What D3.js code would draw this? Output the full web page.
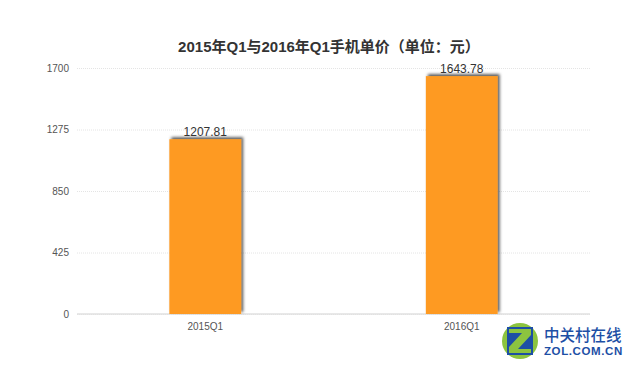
<!DOCTYPE html>
<html>
<head>
<meta charset="utf-8">
<script src="https://cdn.jsdelivr.net/npm/d3@7"></script>
<style>
  body { margin: 0; background: #fff; }
  svg { display: block; font-family: "Liberation Sans", "Noto Sans CJK SC", sans-serif; }
</style>
</head>
<body>
<svg id="chart" width="640" height="372"></svg>
<script>
const categories = ["2015Q1", "2016Q1"];
const prices = [1207.81, 1643.78];
const yTicks = [0, 425, 850, 1275, 1700];
const title = "2015年Q1与2016年Q1手机单价（单位：元）";

const width = 640, height = 372;
const margin = {top: 68, right: 50, bottom: 58, left: 77};

const svg = d3.select("#chart");

const defs = svg.append("defs");
const shadow = defs.append("filter")
    .attr("id", "shadow")
    .attr("x", "-20%").attr("y", "-20%")
    .attr("width", "140%").attr("height", "140%");
shadow.append("feDropShadow")
    .attr("dx", 2).attr("dy", -2)
    .attr("stdDeviation", 1.6)
    .attr("flood-color", "#000")
    .attr("flood-opacity", 0.65);

const x = d3.scaleBand()
    .domain(categories)
    .range([margin.left, width - margin.right]);

const y = d3.scaleLinear()
    .domain([0, 1700])
    .range([height - margin.bottom, margin.top]);

// title
svg.append("text")
    .attr("x", 329)
    .attr("y", 52)
    .attr("text-anchor", "middle")
    .attr("font-size", 15)
    .attr("font-weight", "bold")
    .attr("fill", "#333")
    .text(title);

// grid + y axis
const yAxis = g => {
    g.attr("transform", `translate(${margin.left}, 0)`)
        .call(d3.axisLeft(y).tickValues(yTicks).tickFormat(d3.format("d"))
            .tickSize(-(width - margin.left - margin.right)).tickPadding(8))
        .call(g => g.select(".domain").remove());
    g.selectAll("line")
        .attr("stroke", "#e4e4e4")
        .attr("stroke-dasharray", "1,1");
    g.selectAll("text")
        .attr("fill", "#555")
        .attr("font-size", 10);
};
svg.append("g").call(yAxis);

// baseline
svg.append("line")
    .attr("x1", margin.left).attr("x2", width - margin.right)
    .attr("y1", y(0)).attr("y2", y(0))
    .attr("stroke", "#e0e0e0")
    .attr("stroke-width", 1.5);

// bars
const barW = x.bandwidth() * 0.28;
svg.append("g")
    .selectAll("rect")
    .data(prices)
    .enter().append("rect")
        .attr("x", (d, i) => x(categories[i]) + (x.bandwidth() - barW) / 2)
        .attr("y", d => y(d))
        .attr("width", barW)
        .attr("height", d => y(0) - y(d))
        .attr("fill", "#fe9a22")
        .attr("filter", "url(#shadow)");

// value labels
svg.append("g")
    .selectAll("text")
    .data(prices)
    .enter().append("text")
        .attr("x", (d, i) => x(categories[i]) + x.bandwidth() / 2)
        .attr("y", d => y(d) - 3)
        .attr("text-anchor", "middle")
        .attr("font-size", 12)
        .attr("fill", "#333")
        .text(d => d.toFixed(2));

// x axis labels
svg.append("g")
    .attr("transform", `translate(0, ${y(0)})`)
    .call(d3.axisBottom(x).tickSize(0).tickPadding(9))
    .call(g => g.select(".domain").remove())
    .selectAll("text")
        .attr("fill", "#555")
        .attr("font-size", 10);

// watermark
const logo = svg.append("g").attr("transform", "translate(520, 341)");
logo.append("circle").attr("r", 18).attr("fill", "#8cc43f");
logo.append("rect").attr("x", -13).attr("y", -14).attr("width", 26).attr("height", 28).attr("fill", "#1d4fa5");
logo.append("path")
    .attr("d", "M-11,-12 H11 V-6 L-2,8 H11 V12 H-11 V6 L2,-8 H-11 Z")
    .attr("fill", "#8cc43f");
svg.append("text")
    .attr("x", 544).attr("y", 341)
    .attr("font-size", 15.5)
    .attr("font-weight", 500)
    .attr("fill", "#1d4fa5")
    .attr("font-family", "Noto Sans CJK SC")
    .text("中关村在线");
svg.append("text")
    .attr("x", 544).attr("y", 355)
    .attr("font-size", 11.5)
    .attr("font-weight", "bold")
    .attr("letter-spacing", 0.6)
    .attr("fill", "#1d4fa5")
    .text("ZOL.COM.CN");
</script>
</body>
</html>
